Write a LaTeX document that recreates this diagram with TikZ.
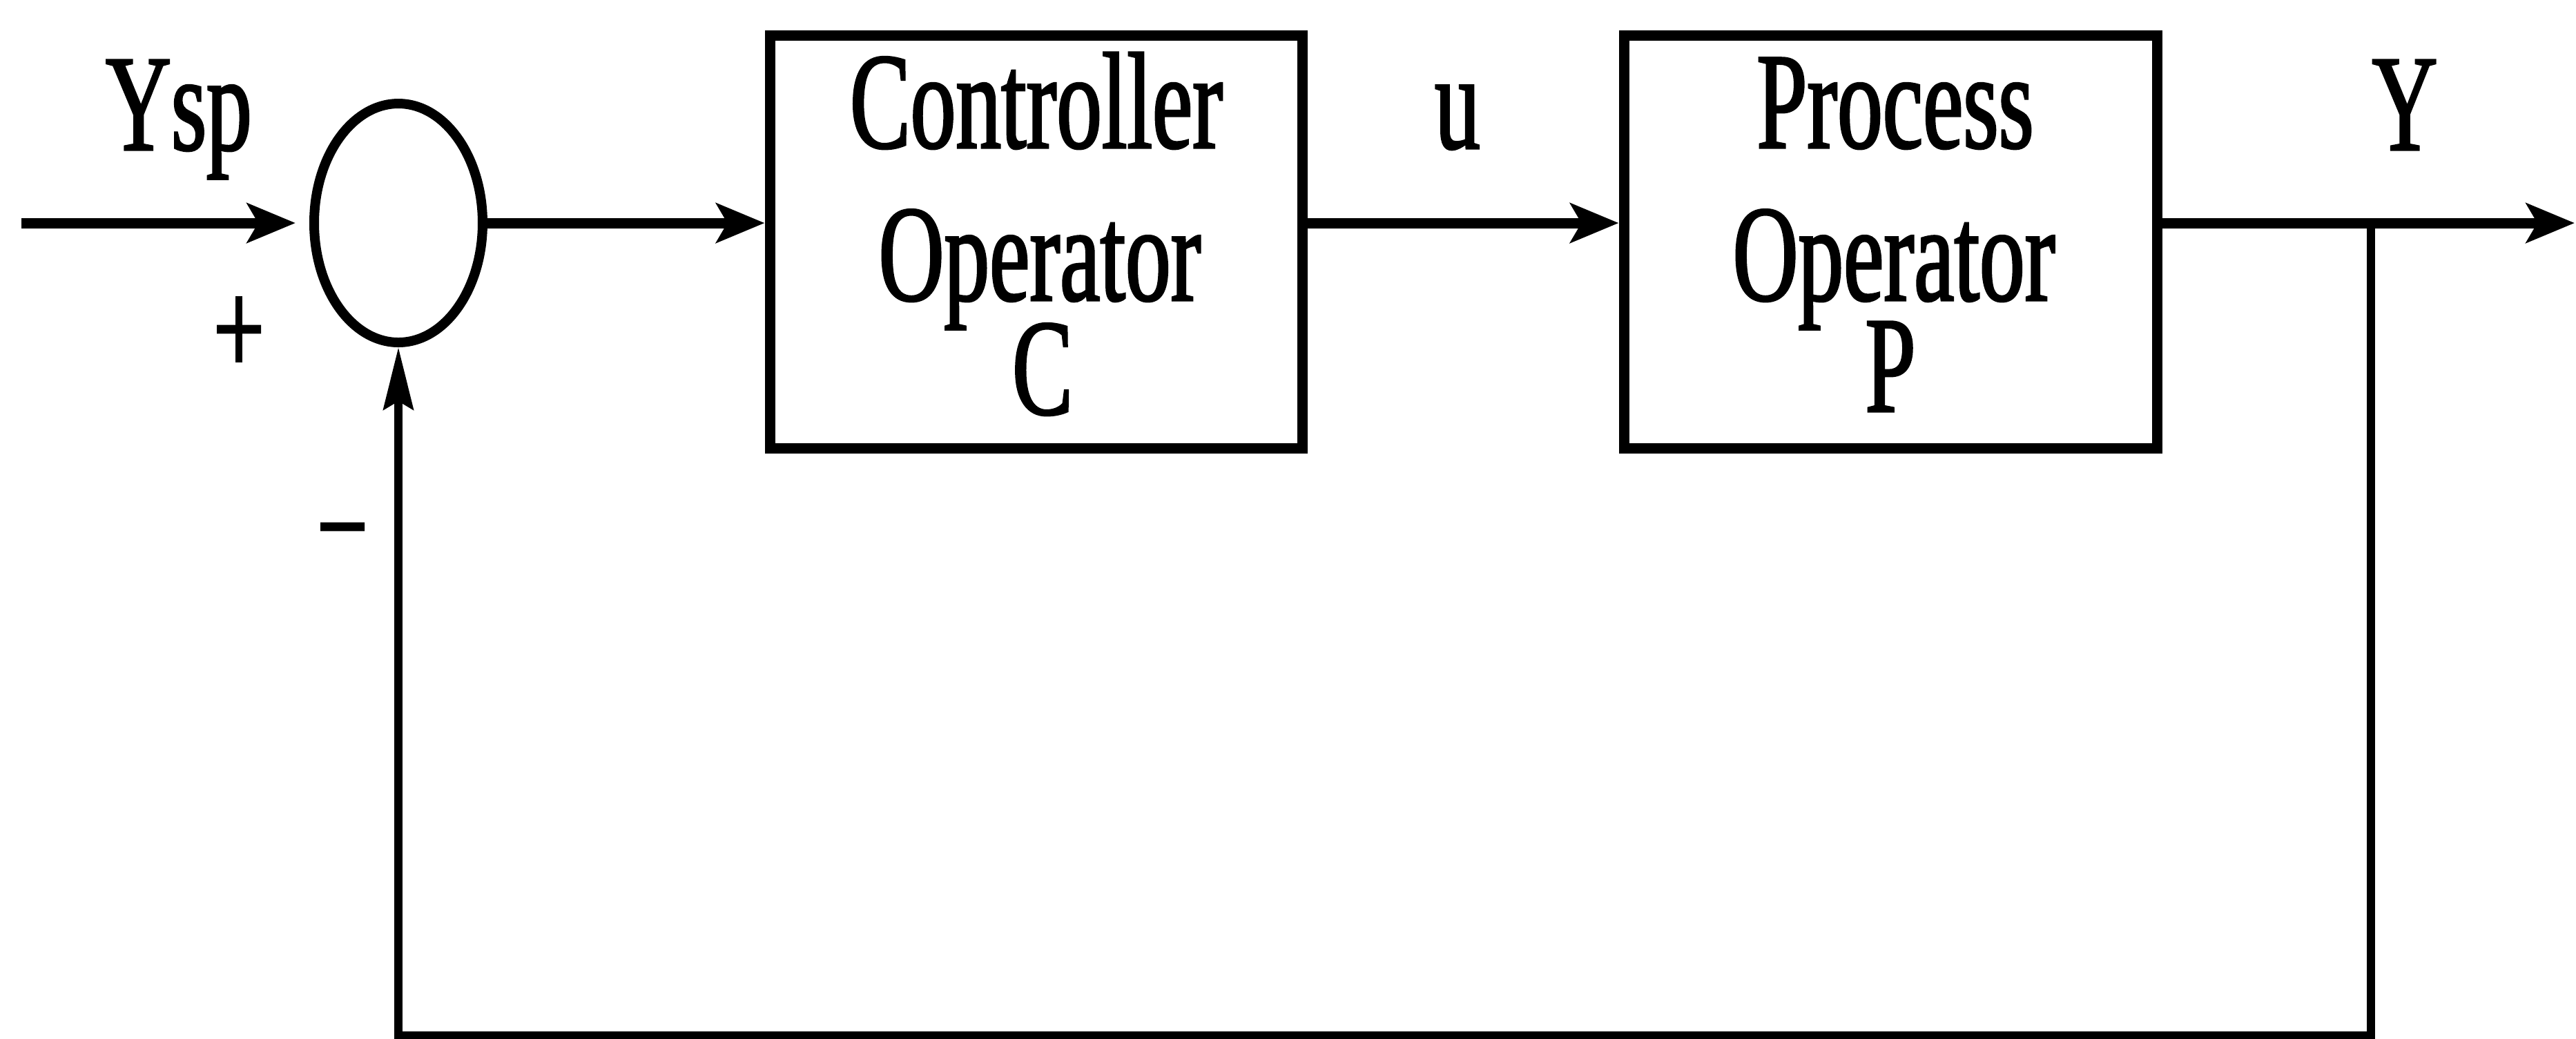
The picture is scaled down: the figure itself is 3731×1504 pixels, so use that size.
\documentclass[tikz,border=0pt]{standalone}
\usepackage{fontspec}
\setmainfont{Liberation Serif}[FakeStretch=0.66,FakeBold=1.5]
\usetikzlibrary{arrows.meta,shapes.geometric}
\begin{document}
\begin{tikzpicture}[x=0.1pt,y=-0.1pt,
  every node/.style={font=\fontsize{19.9pt}{24pt}\selectfont, inner sep=0pt},
  lbl/.style={anchor=base},
  blk/.style={draw, line width=1.5pt, rectangle, minimum width=77.2pt, minimum height=59.8pt},
  sumj/.style={draw, ellipse, line width=1.4pt, minimum width=24.4pt, minimum height=34.6pt},
  sig/.style={line width=1.5pt, -{Stealth[length=7pt,width=5.7pt,inset=1.6pt]}},
  fbk/.style={line width=1.2pt, -{Stealth[length=9pt,width=4.3pt,inset=1.2pt]}}
]
\useasboundingbox (0,0) rectangle (3731,1504);
\node[sumj] (sum) at (577,323) {};
\node[blk] (ctrl) at (1501,350) {};
\node[blk] (proc) at (2738,350) {};
\coordinate (in) at (31,323);
\coordinate (out) at (3729,323);
\coordinate (br) at (3434,323);
\coordinate (brc) at (3434,1500);
\draw[sig, shorten >=2pt] (in) -- (sum.west);
\draw[sig] (sum.east) -- (ctrl.west |- sum);
\draw[sig] (ctrl.east |- sum) -- (proc.west |- sum);
\draw[sig] (proc.east |- sum) -- (out);
\draw[fbk] (br) -- (brc) -| (sum.south);
\node[lbl] (ysp) at (259,217) {Ysp};
\node[lbl] (c1) at (1501,214) {Controller};
\node[lbl] (c2) at (1506,435) {Operator};
\node[lbl] (c3) at (1510,600) {C};
\node[lbl] (p1) at (2745,214) {Process};
\node[lbl] (p2) at (2743,435) {Operator};
\node[lbl] (p3) at (2738,596) {P};
\node[lbl] (u) at (2111,215) {u};
\node[lbl] (y) at (3483,217) {Y};
\node[lbl] (plus) at (346,543) {+};
\node[lbl] (minus) at (496,829) {−};
\end{tikzpicture}
\end{document}
